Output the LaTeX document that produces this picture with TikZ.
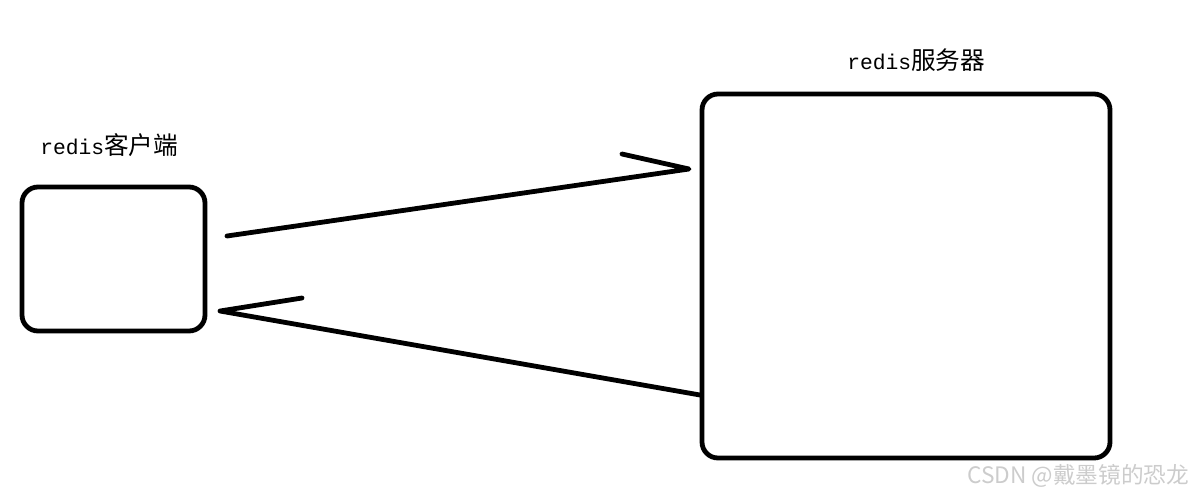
\documentclass[tikz,border=0pt]{standalone}
\usepackage{fontspec}
\setmonofont{Liberation Mono}
\newfontfamily\cjk{Noto Sans CJK SC}
\usetikzlibrary{calc}
\begin{document}
\begin{tikzpicture}[x=0.75pt,y=-0.75pt,
  pen/.style={line width=3.6pt,line cap=round,line join=round},
  boxstyle/.style={draw,line width=3.6pt,rounded corners=12pt,inner sep=0pt,outer sep=0pt},
  lbl/.style={anchor=west,inner sep=0pt,text=black},
  wm/.style={anchor=west,inner sep=0pt,text=black!20}]
\useasboundingbox (0,0) rectangle (1201,497);
\node[boxstyle,minimum width=137.25pt,minimum height=108pt] (client) at (113.5,259) {};
\node[boxstyle,minimum width=306pt,minimum height=273pt] (server) at (906,276) {};
\node[lbl] (clientlabel) at (40,145) {\fontsize{16pt}{16pt}\selectfont\ttfamily redis\fontsize{18.5pt}{18.5pt}\selectfont\cjk 客户端};
\node[lbl] (serverlabel) at (847,60) {\fontsize{16pt}{16pt}\selectfont\ttfamily redis\fontsize{18.5pt}{18.5pt}\selectfont\cjk 服务器};
\node[wm] (watermark) at (967,476) {\fontsize{17pt}{17pt}\selectfont\cjk CSDN @戴墨镜的恐龙};
\coordinate (a1s) at ($(client.east)+(22,-23)$);
\coordinate (a1t) at ($(server.west)+(-13,-107)$);
\coordinate (a1b) at (622,154);
\coordinate (a2s) at ($(server.west)+(-2,119)$);
\coordinate (a2t) at ($(client.east)+(15,52)$);
\coordinate (a2b) at (302,298);
\draw[pen] (a1s) -- (a1t) -- (a1b);
\draw[pen] (a2s) -- (a2t) -- (a2b);
\end{tikzpicture}
\end{document}
